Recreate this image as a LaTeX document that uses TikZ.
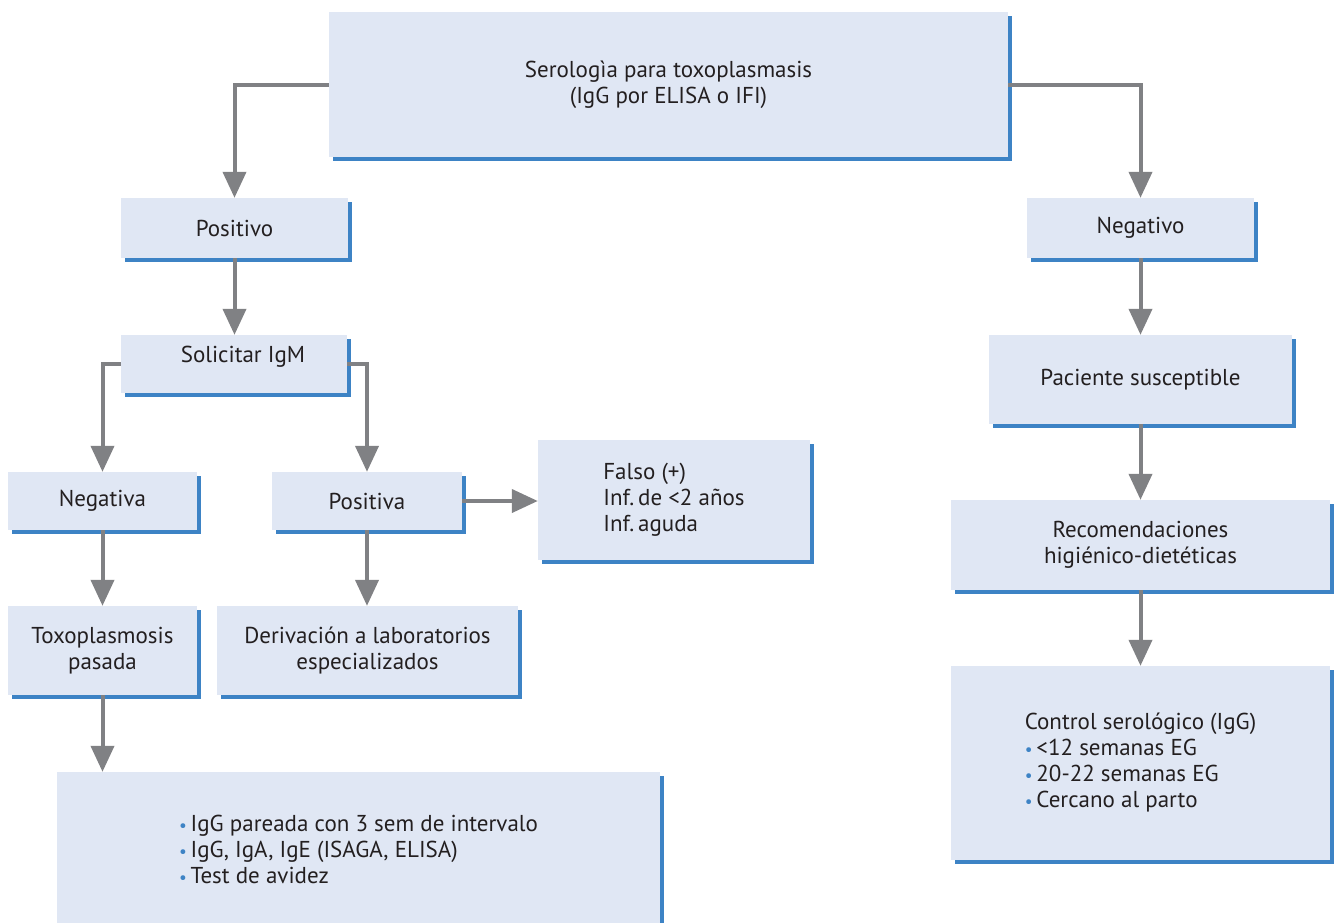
\documentclass[tikz,border=0pt]{standalone}
\usepackage{fontspec}
\setmainfont{PT Sans}
\usetikzlibrary{arrows.meta,shadows,calc}
\definecolor{boxfill}{HTML}{E0E7F4}
\definecolor{shadowblue}{HTML}{3D83C5}
\definecolor{arrowgray}{HTML}{808184}
\definecolor{txt}{HTML}{231F20}
\newcommand{\bul}{{\color{shadowblue}\scalebox{0.75}{•}}\,}
\tikzset{
  bx/.style={fill=boxfill, inner sep=0pt, text=txt, align=center,
    font=\fontsize{23}{26}\selectfont,
    general shadow={fill=shadowblue, shadow xshift=4pt, shadow yshift=-4pt}},
  conn/.style={draw=arrowgray, line width=4pt,
    -{Triangle[width=23pt,length=26pt]}},
  lbl/.style={inner sep=0pt, text=txt, font=\fontsize{23}{26}\selectfont}
}
\begin{document}
\begin{tikzpicture}[x=1pt,y=-1pt]
\clip (0,0) rectangle (1336,922);
\fill[white] (0,0) rectangle (1336,922);
% boxes
\node[bx, minimum width=679pt, minimum height=145pt] (sero) at (668.5,84.5)
  {Serologìa para toxoplasmasis\\(IgG por ELISA o IFI)};
\node[bx, minimum width=227pt, minimum height=60pt] (posi) at (234.5,228) {Positivo};
\node[bx, minimum width=227pt, minimum height=60pt] (nego) at (1140.5,228) {Negativo};
\node[bx, minimum width=226pt, minimum height=58pt] (soli) at (234,364) {};
\node[lbl] (solit) at (243,357) {Solicitar IgM};
\node[bx, minimum width=189pt, minimum height=58pt] (nega) at (102.5,501) {Negativa};
\node[bx, minimum width=190pt, minimum height=58pt] (posa) at (367,501) {Positiva};
\node[bx, minimum width=272pt, minimum height=120pt, align=left] (falso) at (674,500)
  {Falso (+)\\Inf.\,de <2 años\\Inf.\,aguda};
\node[bx, minimum width=189pt, minimum height=89pt] (toxo) at (102.5,650.5)
  {Toxoplasmosis\\pasada};
\node[bx, minimum width=301pt, minimum height=89pt] (deri) at (367.5,650.5)
  {Derivación a laboratorios\\especializados};
\node[bx, minimum width=603pt, minimum height=154pt, align=left] (pruebas) at (358.5,849)
  {\bul IgG pareada con 3 sem de intervalo\\\bul IgG, IgA, IgE (ISAGA, ELISA)\\\bul Test de avidez};
\node[bx, minimum width=303pt, minimum height=89pt] (paci) at (1140.5,379.5)
  {Paciente susceptible};
\node[bx, minimum width=379pt, minimum height=90pt] (reco) at (1140.5,545)
  {Recomendaciones\\higiénico-dietéticas};
\node[bx, minimum width=379pt, minimum height=194pt, align=left] (ctrl) at (1140.5,763)
  {Control serológico (IgG)\\\bul <12 semanas EG\\\bul 20-22 semanas EG\\\bul Cercano al parto};
% connectors
\draw[conn] (sero.west) -| (posi.north);
\draw[conn] (sero.east) -| (nego.north);
\draw[conn] (posi.south) -- (posi.south |- soli.north);
\draw[conn] (soli.west) -| (nega.north);
\draw[conn] (soli.east) -| (posa.north);
\draw[conn] (posa.east) -- (posa.east -| falso.west);
\draw[conn] (nega.south) -- (toxo.north);
\draw[conn] (posa.south) -- (posa.south |- deri.north);
\draw[conn] (toxo.south) -- (toxo.south |- pruebas.north);
\draw[conn] (nego.south) -- (paci.north);
\draw[conn] (paci.south) -- (reco.north);
\draw[conn] (reco.south) -- (ctrl.north);
\end{tikzpicture}
\end{document}
